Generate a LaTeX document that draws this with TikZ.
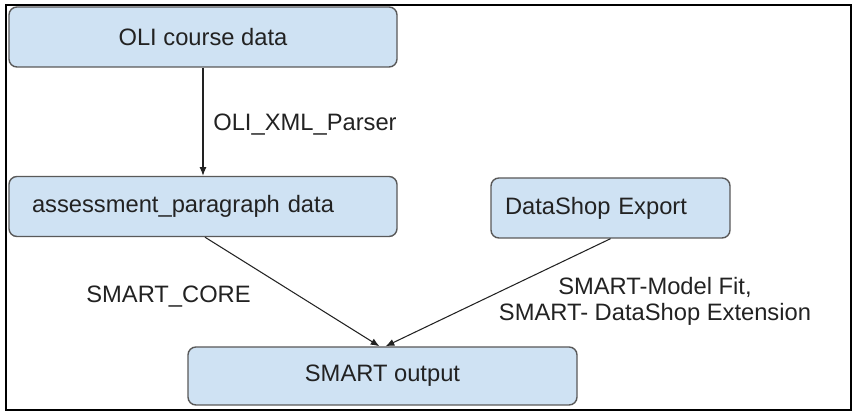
\documentclass[tikz,border=0pt]{standalone}
\usepackage{fontspec}
\setmainfont{Liberation Sans}
\usetikzlibrary{arrows.meta}
\definecolor{boxfill}{HTML}{CFE2F3}
\definecolor{boxline}{HTML}{595959}
\definecolor{txt}{HTML}{222222}

\begin{document}
\begin{tikzpicture}[
  box/.style={draw=boxline, fill=boxfill, line width=0.8pt, rounded corners=4.5pt,
    minimum height=1.2cm, text=txt, font=\fontsize{13.5}{15}\selectfont},
  lbl/.style={text=txt, inner sep=0pt, font=\fontsize{13.5}{14.8}\selectfont},
  flow/.style={draw=txt, line width=0.6pt, -{Latex[length=5pt,width=4pt]}}
]
\useasboundingbox (0,0) rectangle (17.16,8.28);
\draw[line width=1.4pt] (0.12,0.08) rectangle (17.02,8.18);
\node[box, minimum width=7.76cm] (course) at (4.06,7.54) {OLI course data};
\node[box, text width=6.84cm, inner xsep=0.46cm, align=left] (assess) at (4.06,4.15) {assessment\_paragraph data};
\node[box, text width=4.22cm, inner xsep=0.28cm, align=left] (shop) at (12.21,4.12) {DataShop Export};
\node[box, minimum width=7.78cm, minimum height=1.16cm] (out) at (7.65,0.76) {SMART output};
\node[lbl, anchor=west] (parser) at (4.26,5.78) {OLI\_XML\_Parser};
\node[lbl, anchor=west] (core) at (1.72,2.34) {SMART\_CORE};
\node[lbl, align=center] (fit) at (13.1,2.26) {SMART-Model Fit,\\SMART- DataShop Extension};
\draw[flow] (course) -- (assess);
\draw[flow] ([xshift=0.04cm]assess.south) -- ([xshift=-0.06cm]out.north);
\draw[flow] (shop.south) -- ([xshift=0.06cm]out.north);
\end{tikzpicture}
\end{document}
